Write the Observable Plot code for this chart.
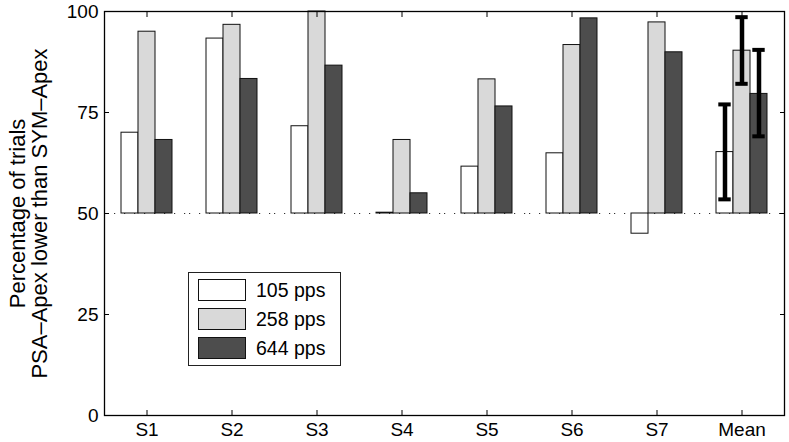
<!DOCTYPE html>
<html>
<head>
<meta charset="utf-8">
<script src="https://cdn.jsdelivr.net/npm/d3@7"></script>
<script src="https://cdn.jsdelivr.net/npm/@observablehq/plot@0.6"></script>
<style>
  body { margin: 0; background: #fff; }
  #wrap { position: relative; width: 789px; height: 442px; font-family: "Liberation Sans", Arial, sans-serif; }
  #legend { position: absolute; left: 188px; top: 272px; width: 151px; height: 92px; border: 1.3px solid #222; background: #fff; }
  .row { position: absolute; left: 9px; height: 22px; display: flex; align-items: center; }
  .sw { width: 46px; height: 20px; border: 1px solid #111; }
  .lab { margin-left: 10px; font-size: 19.5px; color: #000; }
</style>
</head>
<body>
<div id="wrap"></div>
<script>
// ---- data ----
const categories = ["S1", "S2", "S3", "S4", "S5", "S6", "S7", "Mean"];
const series = ["105 pps", "258 pps", "644 pps"];
const v105 = [70.0, 93.3, 71.6, 50.2, 61.6, 64.9, 45.0, 65.2];
const v258 = [95.0, 96.7, 100.0, 68.2, 83.2, 91.7, 97.3, 90.3];
const v644 = [68.2, 83.3, 86.6, 55.0, 76.5, 98.3, 89.9, 79.6];
const errCategory = "Mean";
const errLow = [53.5, 82.1, 69.1];
const errHigh = [77.0, 98.6, 90.5];
const yTicks = [0, 25, 50, 75, 100];
const baseline = 50;
const colors = ["#ffffff", "#d9d9d9", "#4d4d4d"];
const yLabel = "Percentage of trials\nPSA\u2013Apex lower than SYM\u2013Apex";

// ---- build tables ----
const vals = [v105, v258, v644];
const data = [];
categories.forEach((c, i) => series.forEach((s, j) => data.push({cat: c, series: s, value: vals[j][i]})));
const errData = series.map((s, j) => ({cat: errCategory, series: s, lo: errLow[j], hi: errHigh[j]}));

const chart = Plot.plot({
  width: 789,
  height: 442,
  marginLeft: 103,
  marginRight: 4,
  marginTop: 11,
  marginBottom: 27,
  style: {fontFamily: "'Liberation Sans', Arial, sans-serif", fontSize: "19px", color: "#000", background: "#fff"},
  fx: {domain: categories, padding: 0, label: null},
  x: {domain: series, paddingInner: 0, paddingOuter: 0.96, axis: null},
  y: {domain: [0, 100], ticks: yTicks},
  color: {domain: series, range: colors},
  marks: [
    Plot.ruleY([baseline], {stroke: "#333", strokeWidth: 1.2, strokeDasharray: "1.2,8.8"}),
    Plot.barY(data, {fx: "cat", x: "series", y1: baseline, y2: "value", fill: "series", stroke: "#111", strokeWidth: 1}),
    Plot.ruleX(errData, {fx: "cat", x: "series", y1: "lo", y2: "hi", stroke: "#000", strokeWidth: 4.5}),
    Plot.tickY(errData, {fx: "cat", x: "series", y: "lo", stroke: "#000", strokeWidth: 4, insetLeft: 2.3, insetRight: 2.3}),
    Plot.tickY(errData, {fx: "cat", x: "series", y: "hi", stroke: "#000", strokeWidth: 4, insetLeft: 2.3, insetRight: 2.3}),
    Plot.frame({facet: "super", stroke: "#000", strokeWidth: 1.3}),
    Plot.axisY({anchor: "left", ticks: yTicks, tickSize: -5, tickPadding: 11, stroke: "#000", label: null}),
    Plot.axisY({anchor: "left", ticks: [], label: yLabel, labelAnchor: "center", labelOffset: 95, labelArrow: "none",
      fontSize: 22, lineHeight: 1.15}),
    Plot.axisY({anchor: "right", ticks: yTicks, tickSize: -5, stroke: "#000", tickFormat: () => "", label: null}),
    Plot.axisFx({anchor: "bottom", tickSize: -5, tickPadding: 12, stroke: "#000", label: null}),
    Plot.axisFx({anchor: "top", tickSize: -5, stroke: "#000", tickFormat: () => "", label: null})
  ]
});
const wrap = document.getElementById("wrap");
wrap.appendChild(chart);

// legend
const leg = document.createElement("div");
leg.id = "legend";
const tops = [6, 35, 64];
series.forEach((s, j) => {
  const r = document.createElement("div");
  r.className = "row";
  r.style.top = tops[j] + "px";
  const sw = document.createElement("div");
  sw.className = "sw";
  sw.style.background = colors[j];
  const lb = document.createElement("span");
  lb.className = "lab";
  lb.textContent = s;
  r.appendChild(sw); r.appendChild(lb);
  leg.appendChild(r);
});
wrap.appendChild(leg);
</script>
</body>
</html>
